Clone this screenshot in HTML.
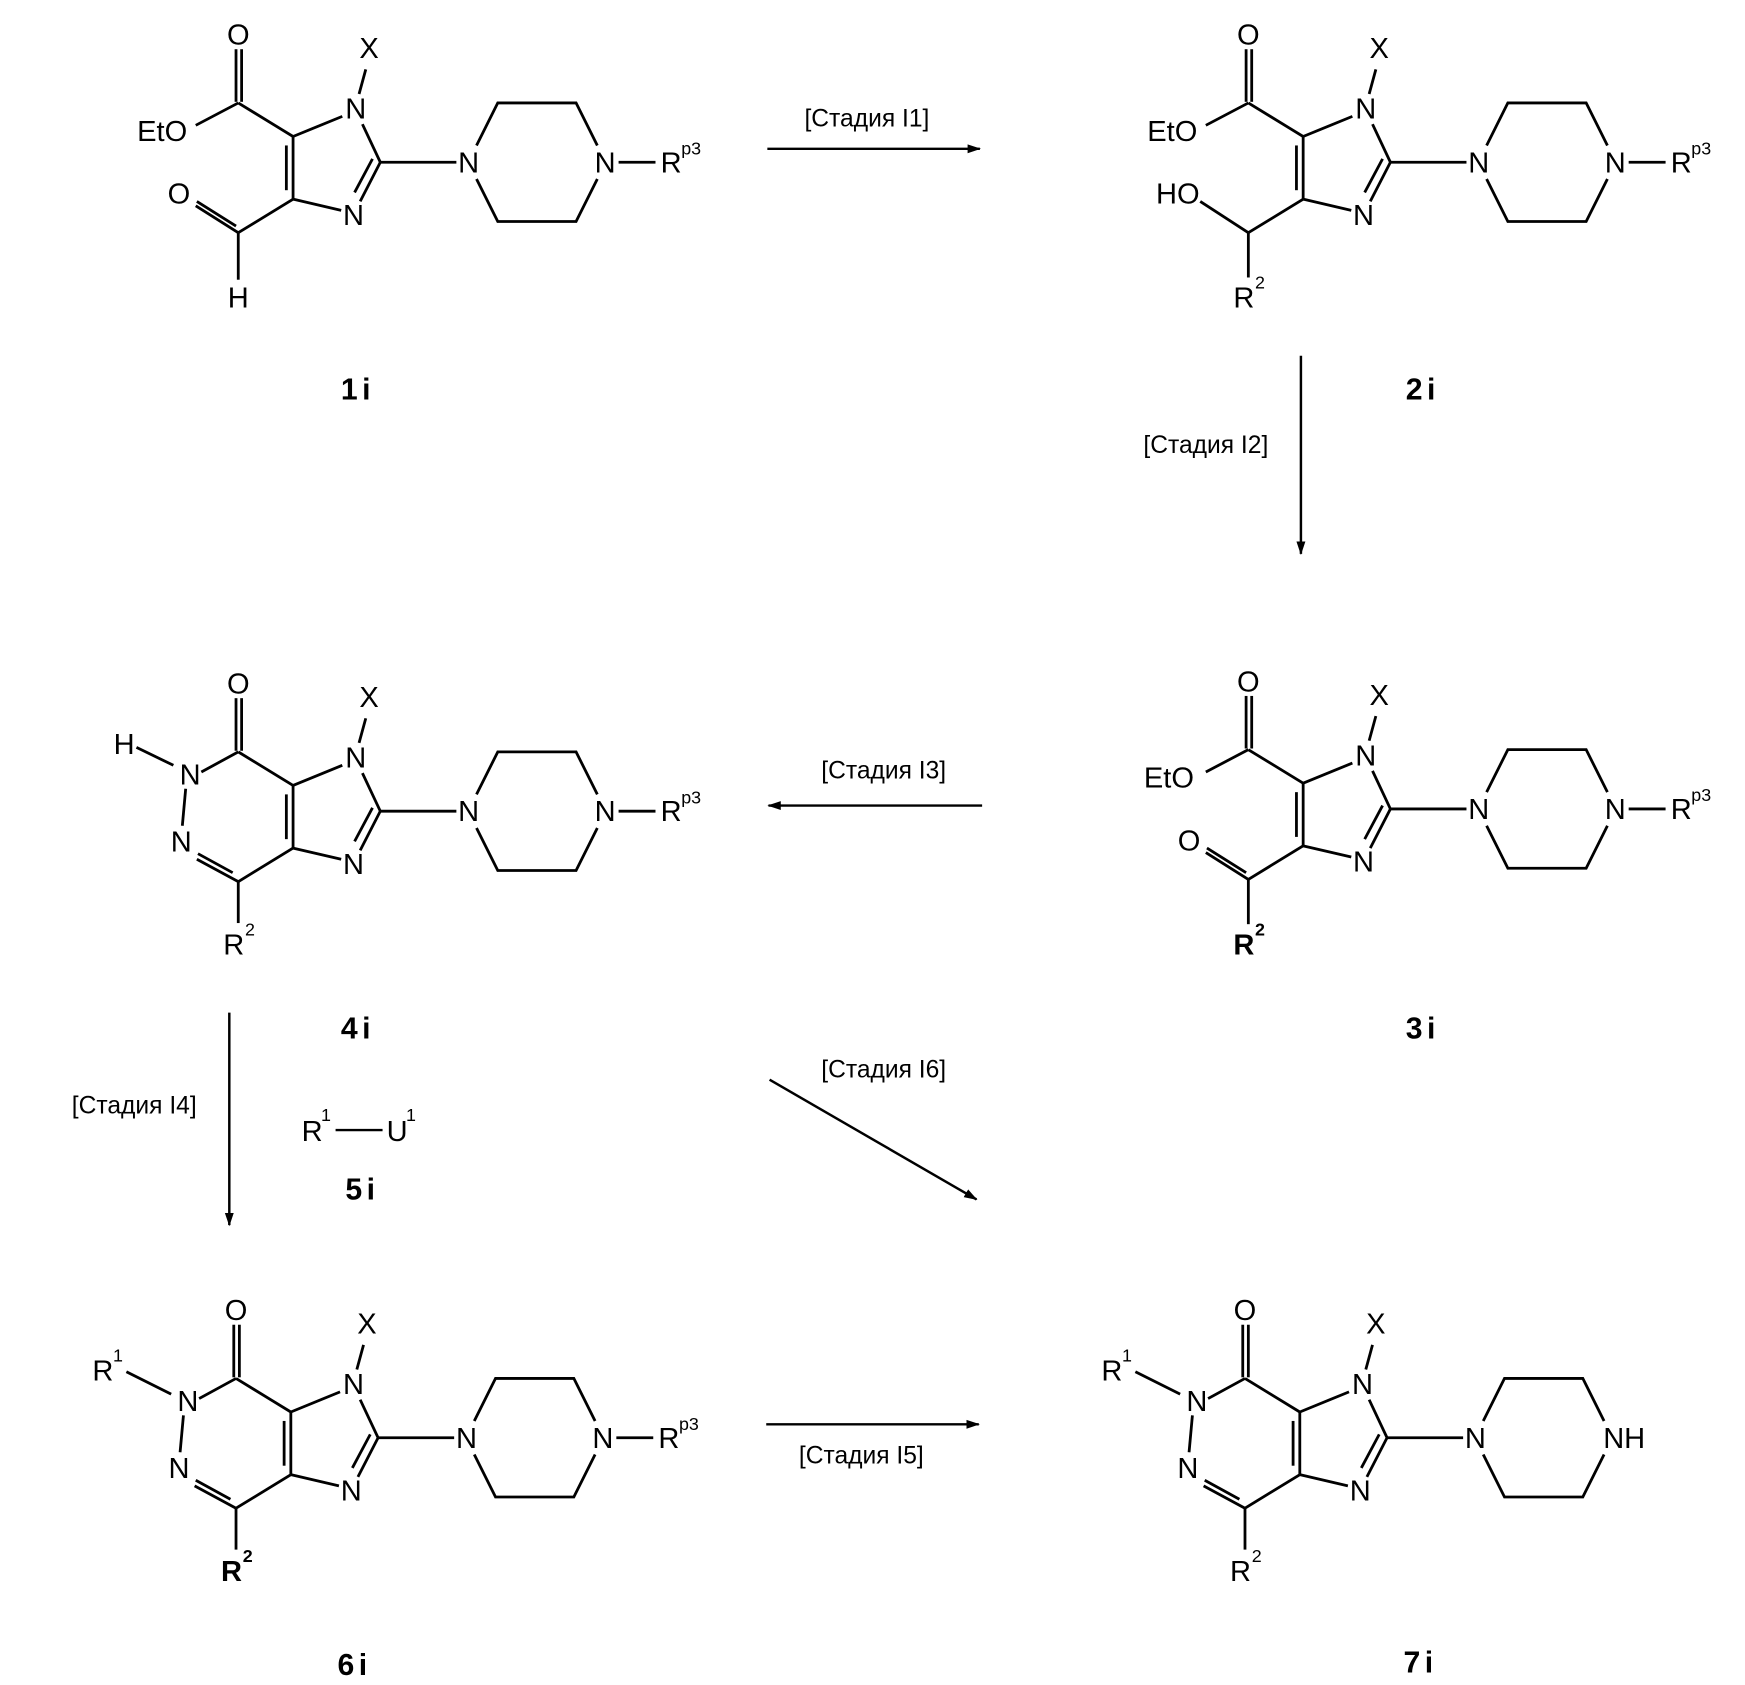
<!DOCTYPE html>
<html><head><meta charset="utf-8"><style>
html,body{margin:0;padding:0;background:#fff;}
svg{display:block;}
text{font-family:"Liberation Sans",sans-serif;fill:#000;}
.a{font-size:26px;text-anchor:middle;}
.s{font-size:16px;transform:translateX(-3px);}
.l{font-size:22px;text-anchor:middle;}
.n{font-size:27px;text-anchor:middle;font-weight:bold;letter-spacing:4px;}
</style></head><body>
<svg width="1745" height="1685" viewBox="0 0 1560 1506" preserveAspectRatio="none" xmlns="http://www.w3.org/2000/svg">
<defs>
<marker id="ah" markerWidth="12" markerHeight="10" refX="11" refY="5" orient="auto" markerUnits="userSpaceOnUse">
<path d="M0,1 L12,5 L0,9 Z" fill="#000"/></marker>
</defs>
<g stroke="#000" stroke-width="2.2" fill="none">
<line x1="686" y1="133" x2="876" y2="133" marker-end="url(#ah)"/>
<line x1="1163" y1="318" x2="1163" y2="495" marker-end="url(#ah)"/>
<line x1="878" y1="720" x2="687" y2="720" marker-end="url(#ah)"/>
<line x1="205" y1="905" x2="205" y2="1095" marker-end="url(#ah)"/>
<line x1="688" y1="965" x2="873" y2="1072" marker-end="url(#ah)"/>
<line x1="685" y1="1273" x2="875" y2="1273" marker-end="url(#ah)"/>
<line x1="300" y1="1010" x2="342" y2="1010"/>
</g>
<text class="l" x="775" y="113">[Стадия I1]</text>
<text class="l" x="1078" y="405">[Стадия I2]</text>
<text class="l" x="790" y="696">[Стадия I3]</text>
<text class="l" x="120" y="995">[Стадия I4]</text>
<text class="l" x="790" y="963">[Стадия I6]</text>
<text class="l" x="770" y="1308">[Стадия I5]</text>
<text class="a" x="279" y="1020">R</text><text class="s" x="290" y="1002">1</text>
<text class="a" x="355" y="1020">U</text><text class="s" x="366" y="1002">1</text>
<text class="n" x="324" y="1072">5i</text>

<!-- 1i -->
<g>
<g stroke="#000" stroke-width="2.5" fill="none">
<line x1="262" y1="122" x2="262" y2="178"/><line x1="256" y1="130" x2="256" y2="170"/>
<line x1="262" y1="122" x2="306" y2="104"/><line x1="324" y1="111" x2="340" y2="145"/>
<line x1="340" y1="145" x2="322" y2="180"/><line x1="333" y1="142" x2="317" y2="172"/>
<line x1="262" y1="178" x2="305" y2="188"/><line x1="340" y1="145" x2="408" y2="145"/>
<polyline points="426,130 445,92 515,92 534,130"/><polyline points="426,160 445,198 515,198 534,160"/>
<line x1="553" y1="145" x2="586" y2="145"/><line x1="327" y1="62" x2="321" y2="84"/>
<line x1="213" y1="92" x2="262" y2="122"/><line x1="213" y1="92" x2="175" y2="112"/>
<line x1="211" y1="44" x2="211" y2="91"/><line x1="216" y1="44" x2="216" y2="91"/>
<line x1="262" y1="178" x2="213" y2="208"/><line x1="213" y1="208" x2="175" y2="184"/><line x1="211" y1="202" x2="176" y2="180"/>
<line x1="213" y1="208" x2="213" y2="250"/>
</g>
<text class="a" x="318" y="106">N</text><text class="a" x="316" y="201">N</text><text class="a" x="419" y="154">N</text><text class="a" x="541" y="154">N</text>
<text class="a" x="600" y="154">R</text><text class="s" x="612" y="138">p3</text>
<text class="a" x="330" y="52">X</text><text class="a" x="213" y="40">O</text><text class="a" x="145" y="126">EtO</text>
<text class="a" x="160" y="182">O</text><text class="a" x="213" y="275">H</text>
<text class="n" x="320" y="357">1i</text>
</g>
<!-- 2i -->
<g transform="translate(903,0)">
<g stroke="#000" stroke-width="2.5" fill="none">
<line x1="262" y1="122" x2="262" y2="178"/><line x1="256" y1="130" x2="256" y2="170"/>
<line x1="262" y1="122" x2="306" y2="104"/><line x1="324" y1="111" x2="340" y2="145"/>
<line x1="340" y1="145" x2="322" y2="180"/><line x1="333" y1="142" x2="317" y2="172"/>
<line x1="262" y1="178" x2="305" y2="188"/><line x1="340" y1="145" x2="408" y2="145"/>
<polyline points="426,130 445,92 515,92 534,130"/><polyline points="426,160 445,198 515,198 534,160"/>
<line x1="553" y1="145" x2="586" y2="145"/><line x1="327" y1="62" x2="321" y2="84"/>
<line x1="213" y1="92" x2="262" y2="122"/><line x1="213" y1="92" x2="175" y2="112"/>
<line x1="211" y1="44" x2="211" y2="91"/><line x1="216" y1="44" x2="216" y2="91"/>
<line x1="262" y1="178" x2="213" y2="208"/><line x1="213" y1="208" x2="170" y2="180"/>
<line x1="213" y1="208" x2="213" y2="248"/>
</g>
<text class="a" x="318" y="106">N</text><text class="a" x="316" y="201">N</text><text class="a" x="419" y="154">N</text><text class="a" x="541" y="154">N</text>
<text class="a" x="600" y="154">R</text><text class="s" x="612" y="138">p3</text>
<text class="a" x="330" y="52">X</text><text class="a" x="213" y="40">O</text><text class="a" x="145" y="126">EtO</text>
<text class="a" x="150" y="182">HO</text><text class="a" x="209" y="275">R</text><text class="s" x="222" y="258">2</text>
<text class="n" x="369" y="357">2i</text>
</g>
<!-- 3i -->
<g transform="translate(903,578)">
<g stroke="#000" stroke-width="2.5" fill="none">
<line x1="262" y1="122" x2="262" y2="178"/><line x1="256" y1="130" x2="256" y2="170"/>
<line x1="262" y1="122" x2="306" y2="104"/><line x1="324" y1="111" x2="340" y2="145"/>
<line x1="340" y1="145" x2="322" y2="180"/><line x1="333" y1="142" x2="317" y2="172"/>
<line x1="262" y1="178" x2="305" y2="188"/><line x1="340" y1="145" x2="408" y2="145"/>
<polyline points="426,130 445,92 515,92 534,130"/><polyline points="426,160 445,198 515,198 534,160"/>
<line x1="553" y1="145" x2="586" y2="145"/><line x1="327" y1="62" x2="321" y2="84"/>
<line x1="213" y1="92" x2="262" y2="122"/><line x1="213" y1="92" x2="175" y2="112"/>
<line x1="211" y1="44" x2="211" y2="91"/><line x1="216" y1="44" x2="216" y2="91"/>
<line x1="262" y1="178" x2="213" y2="208"/><line x1="213" y1="208" x2="175" y2="184"/><line x1="211" y1="202" x2="176" y2="180"/>
<line x1="213" y1="208" x2="213" y2="248"/>
</g>
<text class="a" x="318" y="106">N</text><text class="a" x="316" y="201">N</text><text class="a" x="419" y="154">N</text><text class="a" x="541" y="154">N</text>
<text class="a" x="600" y="154">R</text><text class="s" x="612" y="138">p3</text>
<text class="a" x="330" y="52">X</text><text class="a" x="213" y="40">O</text><text class="a" x="142" y="126">EtO</text>
<text class="a" x="160" y="182">O</text><text class="a" x="209" y="275" font-weight="bold">R</text><text class="s" x="222" y="258" font-weight="bold">2</text>
<text class="n" x="369" y="350">3i</text>
</g>
<!-- 4i -->
<g transform="translate(0,580)">
<g stroke="#000" stroke-width="2.5" fill="none">
<line x1="262" y1="122" x2="262" y2="178"/><line x1="256" y1="130" x2="256" y2="170"/>
<line x1="262" y1="122" x2="306" y2="104"/><line x1="324" y1="111" x2="340" y2="145"/>
<line x1="340" y1="145" x2="322" y2="180"/><line x1="333" y1="142" x2="317" y2="172"/>
<line x1="262" y1="178" x2="305" y2="188"/><line x1="340" y1="145" x2="408" y2="145"/>
<polyline points="426,130 445,92 515,92 534,130"/><polyline points="426,160 445,198 515,198 534,160"/>
<line x1="553" y1="145" x2="586" y2="145"/><line x1="327" y1="62" x2="321" y2="84"/>
<line x1="213" y1="92" x2="262" y2="122"/><line x1="213" y1="92" x2="180" y2="110"/>
<line x1="211" y1="44" x2="211" y2="91"/><line x1="216" y1="44" x2="216" y2="91"/>
<line x1="262" y1="178" x2="213" y2="208"/><line x1="213" y1="208" x2="176" y2="188"/><line x1="208" y1="200" x2="177" y2="183"/>
<line x1="213" y1="208" x2="213" y2="245"/><line x1="122" y1="88" x2="155" y2="104"/>
<line x1="166" y1="125" x2="163" y2="158"/>
</g>
<text class="a" x="318" y="106">N</text><text class="a" x="316" y="201">N</text><text class="a" x="419" y="154">N</text><text class="a" x="541" y="154">N</text>
<text class="a" x="600" y="154">R</text><text class="s" x="612" y="138">p3</text>
<text class="a" x="330" y="52">X</text><text class="a" x="213" y="40">O</text>
<text class="a" x="170" y="121">N</text><text class="a" x="162" y="181">N</text><text class="a" x="111" y="94">H</text>
<text class="a" x="209" y="273">R</text><text class="s" x="222" y="256">2</text>
<text class="n" x="320" y="348">4i</text>
</g>
<!-- 6i -->
<g transform="translate(-2,1140)">
<g stroke="#000" stroke-width="2.5" fill="none">
<line x1="262" y1="122" x2="262" y2="178"/><line x1="256" y1="130" x2="256" y2="170"/>
<line x1="262" y1="122" x2="306" y2="104"/><line x1="324" y1="111" x2="340" y2="145"/>
<line x1="340" y1="145" x2="322" y2="180"/><line x1="333" y1="142" x2="317" y2="172"/>
<line x1="262" y1="178" x2="305" y2="188"/><line x1="340" y1="145" x2="408" y2="145"/>
<polyline points="426,130 445,92 515,92 534,130"/><polyline points="426,160 445,198 515,198 534,160"/>
<line x1="553" y1="145" x2="586" y2="145"/><line x1="327" y1="62" x2="321" y2="84"/>
<line x1="213" y1="92" x2="262" y2="122"/><line x1="213" y1="92" x2="180" y2="110"/>
<line x1="211" y1="44" x2="211" y2="91"/><line x1="216" y1="44" x2="216" y2="91"/>
<line x1="262" y1="178" x2="213" y2="208"/><line x1="213" y1="208" x2="176" y2="188"/><line x1="208" y1="200" x2="177" y2="183"/>
<line x1="213" y1="208" x2="213" y2="245"/><line x1="115" y1="86" x2="155" y2="106"/>
<line x1="166" y1="125" x2="163" y2="158"/>
</g>
<text class="a" x="318" y="106">N</text><text class="a" x="316" y="201">N</text><text class="a" x="419" y="154">N</text><text class="a" x="541" y="154">N</text>
<text class="a" x="600" y="154">R</text><text class="s" x="612" y="138">p3</text>
<text class="a" x="330" y="52">X</text><text class="a" x="213" y="40">O</text>
<text class="a" x="170" y="121">N</text><text class="a" x="162" y="181">N</text>
<text class="a" x="94" y="94">R</text><text class="s" x="106" y="77">1</text>
<text class="a" x="209" y="273" font-weight="bold">R</text><text class="s" x="222" y="256" font-weight="bold">2</text>
<text class="n" x="319" y="357">6i</text>
</g>
<!-- 7i -->
<g transform="translate(900,1140)">
<g stroke="#000" stroke-width="2.5" fill="none">
<line x1="262" y1="122" x2="262" y2="178"/><line x1="256" y1="130" x2="256" y2="170"/>
<line x1="262" y1="122" x2="306" y2="104"/><line x1="324" y1="111" x2="340" y2="145"/>
<line x1="340" y1="145" x2="322" y2="180"/><line x1="333" y1="142" x2="317" y2="172"/>
<line x1="262" y1="178" x2="305" y2="188"/><line x1="340" y1="145" x2="408" y2="145"/>
<polyline points="426,130 445,92 515,92 534,130"/><polyline points="426,160 445,198 515,198 534,160"/>
<line x1="327" y1="62" x2="321" y2="84"/>
<line x1="213" y1="92" x2="262" y2="122"/><line x1="213" y1="92" x2="180" y2="110"/>
<line x1="211" y1="44" x2="211" y2="91"/><line x1="216" y1="44" x2="216" y2="91"/>
<line x1="262" y1="178" x2="213" y2="208"/><line x1="213" y1="208" x2="176" y2="188"/><line x1="208" y1="200" x2="177" y2="183"/>
<line x1="213" y1="208" x2="213" y2="245"/><line x1="115" y1="86" x2="155" y2="106"/>
<line x1="166" y1="125" x2="163" y2="158"/>
</g>
<text class="a" x="318" y="106">N</text><text class="a" x="316" y="201">N</text><text class="a" x="419" y="154">N</text><text class="a" x="552" y="154">NH</text>
<text class="a" x="330" y="52">X</text><text class="a" x="213" y="40">O</text>
<text class="a" x="170" y="121">N</text><text class="a" x="162" y="181">N</text>
<text class="a" x="94" y="94">R</text><text class="s" x="106" y="77">1</text>
<text class="a" x="209" y="273">R</text><text class="s" x="222" y="256">2</text>
<text class="n" x="370" y="355">7i</text>
</g>
</svg>
</body></html>
